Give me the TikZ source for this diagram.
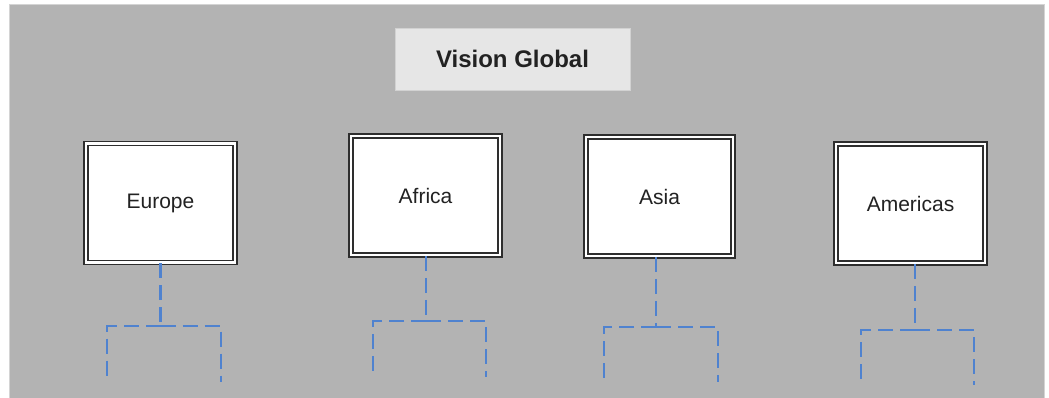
\documentclass[tikz,border=0pt]{standalone}
\usepackage{fontspec}
\setmainfont{Liberation Sans}
\definecolor{panel}{HTML}{B3B3B3}
\definecolor{panelrim}{HTML}{D4D4D4}
\definecolor{titlefill}{HTML}{E6E6E6}
\definecolor{titlerim}{HTML}{D2D2D2}
\definecolor{boxline}{HTML}{2E2E2E}
\definecolor{linkblue}{HTML}{4F82CF}
\definecolor{ink}{HTML}{222222}
\begin{document}
\begin{tikzpicture}[x=1pt,y=-1pt,
  region/.style={draw=boxline, line width=1.7pt, double=white, double distance=2.2pt,
    fill=white, minimum width=149pt, minimum height=119pt, inner sep=0pt,
    font=\fontsize{21}{25}\selectfont, text=ink},
  titlebox/.style={draw=titlerim, line width=0.8pt, fill=titlefill,
    minimum width=235pt, minimum height=62pt, inner sep=0pt,
    font=\fontsize{24}{28}\selectfont\bfseries, text=ink},
  link/.style={draw=linkblue, line width=2.2pt, dash pattern=on 15pt off 7pt}
]
\useasboundingbox (0,0) rectangle (1049,398);
% backdrop panel
\fill[white] (0,0) rectangle (1049,398);
\draw[panelrim, line width=1pt, fill=panel] (9,5) rectangle (1044,400);

% heading
\node[titlebox] (title) at (512.5,59) {Vision Global};

% regional boxes
\node[region] (europe)   at (160.5,203)   {Europe};
\node[region] (africa)   at (425.5,195.5) {Africa};
\node[region, minimum width=147pt] (asia) at (659.5,196.5) {Asia};
\node[region] (americas) at (910.5,203.5) {Americas};

% branch points under each box
\coordinate (ej) at (160.5,326);
\coordinate (el) at (107,326);   \coordinate (er) at (221,326);
\coordinate (elb) at (107,382);  \coordinate (erb) at (221,382);

\coordinate (fj) at (426,321);
\coordinate (fl) at (373,321);   \coordinate (fr) at (486,321);
\coordinate (flb) at (373,377);  \coordinate (frb) at (486,377);

\coordinate (sj) at (656,327);
\coordinate (sl) at (604,327);   \coordinate (sr) at (718,327);
\coordinate (slb) at (604,382);  \coordinate (srb) at (718,382);

\coordinate (mj) at (915,330);
\coordinate (ml) at (861,330);   \coordinate (mr) at (974,330);
\coordinate (mlb) at (861,385);  \coordinate (mrb) at (974,385);

% dashed stubs of the hierarchy
\draw[link] (europe.south -| ej) -- (ej);
\draw[link] (ej) -- (el) -- (elb);
\draw[link] (ej) -- (er) -- (erb);

\draw[link] (africa.south -| fj) -- (fj);
\draw[link] (fj) -- (fl) -- (flb);
\draw[link] (fj) -- (fr) -- (frb);

\draw[link] (asia.south -| sj) -- (sj);
\draw[link] (sj) -- (sl) -- (slb);
\draw[link] (sj) -- (sr) -- (srb);

\draw[link] (americas.south -| mj) -- (mj);
\draw[link] (mj) -- (ml) -- (mlb);
\draw[link] (mj) -- (mr) -- (mrb);
\end{tikzpicture}
\end{document}
